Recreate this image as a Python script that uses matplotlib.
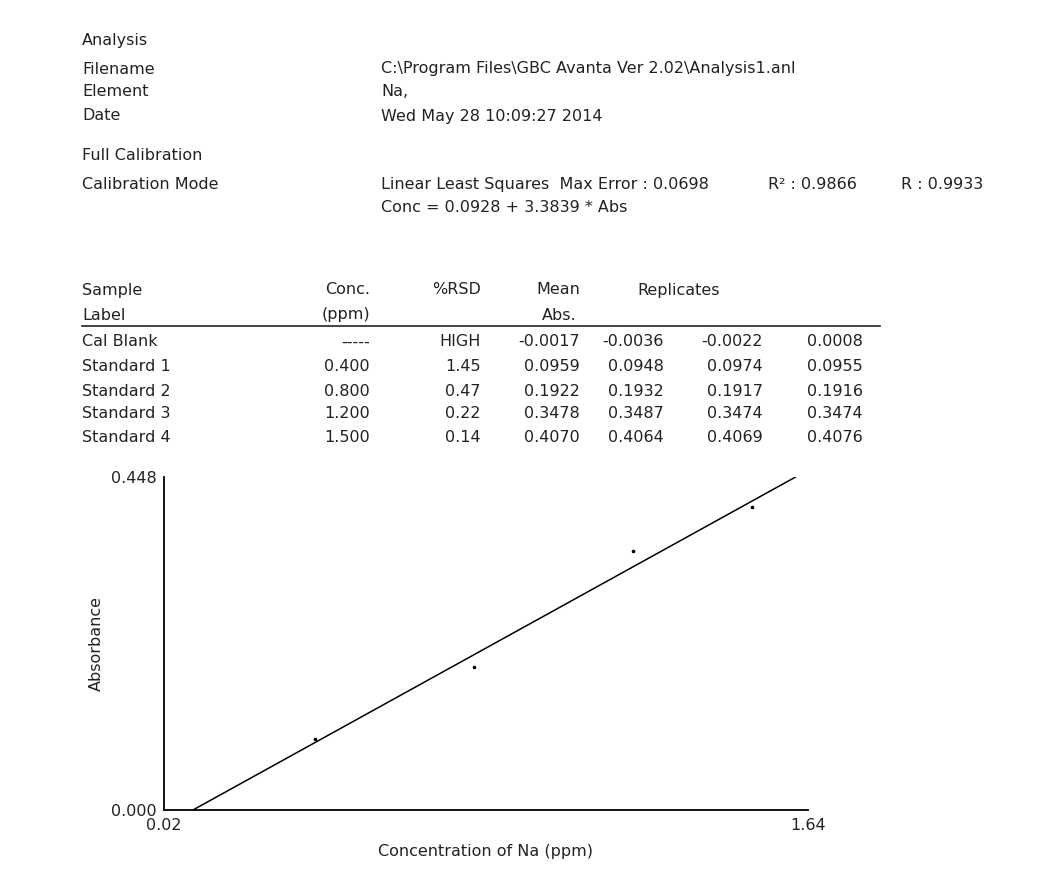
import numpy as np
import matplotlib
matplotlib.use('Agg')
import matplotlib.pyplot as plt
from matplotlib.lines import Line2D

# calibration table
sample_labels = ['Cal Blank', 'Standard 1', 'Standard 2', 'Standard 3', 'Standard 4']
conc = [None, 0.400, 0.800, 1.200, 1.500]
rsd = ['HIGH', '1.45', '0.47', '0.22', '0.14']
mean_abs = [-0.0017, 0.0959, 0.1922, 0.3478, 0.4070]
rep1 = [-0.0036, 0.0948, 0.1932, 0.3487, 0.4064]
rep2 = [-0.0022, 0.0974, 0.1917, 0.3474, 0.4069]
rep3 = [0.0008, 0.0955, 0.1916, 0.3474, 0.4076]

# fit: Conc = intercept + slope * Abs
intercept = 0.0928
slope = 3.3839
x_range = [0.02, 1.64]
y_range = [0.000, 0.448]

W, H = 1037, 872
fig = plt.figure(figsize=(W / 100, H / 100), dpi=100)
plt.rcParams['font.family'] = 'DejaVu Sans'
fs = 11.5
col = '#222222'


def put(x, y, s, ha='left'):
    fig.text(x / W, 1 - y / H, s, ha=ha, va='center', fontsize=fs, color=col)


# header block
put(82, 40, 'Analysis')
put(82, 69, 'Filename')
put(82, 92, 'Element')
put(82, 116, 'Date')
put(82, 155, 'Full Calibration')
put(82, 184, 'Calibration Mode')
put(381, 69, 'C:\\Program Files\\GBC Avanta Ver 2.02\\Analysis1.anl')
put(381, 92, 'Na,')
put(381, 116, 'Wed May 28 10:09:27 2014')
put(381, 184, 'Linear Least Squares  Max Error : 0.0698')
put(768, 184, 'R\u00b2 : 0.9866')
put(901, 184, 'R : 0.9933')
put(381, 208, 'Conc = %.4f + %.4f * Abs' % (intercept, slope))

# table header
put(82, 290, 'Sample')
put(82, 315, 'Label')
put(370, 290, 'Conc.', ha='right')
put(370, 315, '(ppm)', ha='right')
put(481, 290, '%RSD', ha='right')
put(580, 290, 'Mean', ha='right')
put(577, 315, 'Abs.', ha='right')
put(637, 290, 'Replicates')
fig.add_artist(Line2D([82 / W, 880 / W], [1 - 326 / H, 1 - 326 / H],
                      color=col, lw=1.2))

row_y = [342, 366, 391, 413, 437]
for i, y in enumerate(row_y):
    put(82, y, sample_labels[i])
    put(370, y, '-----' if conc[i] is None else '%.3f' % conc[i], ha='right')
    put(481, y, rsd[i], ha='right')
    put(580, y, '%.4f' % mean_abs[i], ha='right')
    put(664, y, '%.4f' % rep1[i], ha='right')
    put(763, y, '%.4f' % rep2[i], ha='right')
    put(863, y, '%.4f' % rep3[i], ha='right')

# calibration plot
ax = fig.add_axes([164 / W, 1 - 810 / H, (808 - 164) / W, (810 - 477) / H])
std_conc = [c for c in conc if c is not None]
std_abs = [a for c, a in zip(conc, mean_abs) if c is not None]
ax.plot(std_conc, std_abs, 'o', color='black', markersize=1.6)

abs_line = np.array(y_range)
ax.plot(intercept + slope * abs_line, abs_line, color='black', lw=1.1)

ax.set_xlim(x_range)
ax.set_ylim(y_range)
ax.spines['top'].set_visible(False)
ax.spines['right'].set_visible(False)
ax.spines['left'].set_linewidth(1.3)
ax.spines['bottom'].set_linewidth(1.3)
ax.set_xticks(x_range)
ax.set_xticklabels(['%.2f' % v for v in x_range])
ax.set_yticks(y_range)
ax.set_yticklabels(['%.3f' % v for v in y_range])
ax.tick_params(length=0, labelsize=fs, colors=col, pad=5)
ax.tick_params(axis='x', pad=6)
ax.set_xlabel('Concentration of Na (ppm)', fontsize=fs, color=col, labelpad=8)
ax.set_ylabel('Absorbance', fontsize=fs, color=col)
ax.yaxis.set_label_coords(-0.093, 0.5)

plt.savefig('out.png', dpi=100)
